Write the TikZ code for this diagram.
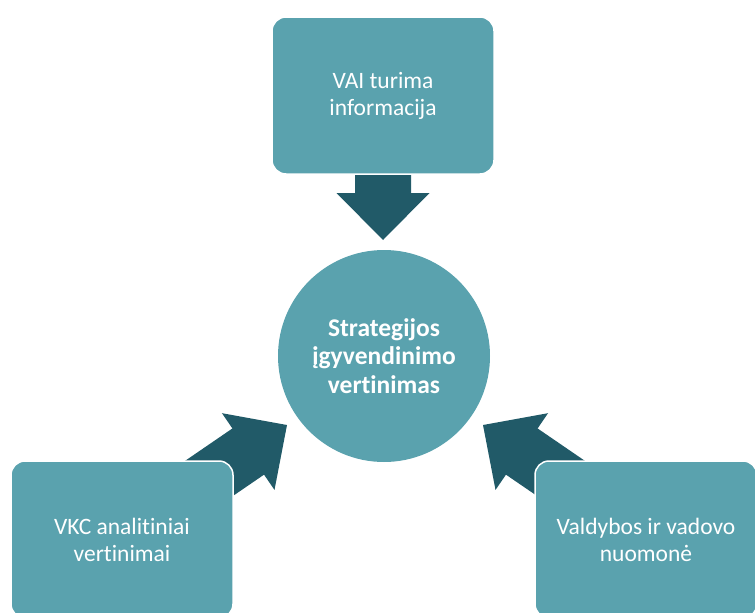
\documentclass[tikz,border=0pt]{standalone}
\usepackage{fontspec}
\setmainfont[Ligatures=NoCommon]{Carlito}
\definecolor{boxteal}{HTML}{5AA2AE}
\definecolor{arrowteal}{HTML}{215A68}
\tikzset{
  boxstyle/.style={rectangle, rounded corners=14pt, fill=boxteal, draw=white, line width=1.5pt,
    minimum width=222pt, minimum height=157pt, text=white, align=center,
    font=\fontsize{23.5}{27}\selectfont, inner sep=0pt},
  hubstyle/.style={circle, fill=boxteal, minimum size=212pt, text=white, align=center,
    font=\bfseries\fontsize{25.5}{28.5}\selectfont, inner sep=0pt},
  blockarrow/.style={fill=arrowteal}
}
\begin{document}
\begin{tikzpicture}[x=1pt,y=1pt]
\useasboundingbox (0,0) rectangle (755,-613);
\clip (0,0) rectangle (755,-613);
% arrows (drawn first, partly hidden by boxes)
\path[blockarrow, shift={(383,-240)}, rotate=-90]
  (0,0) -- (-47,46.5) -- (-47,28) -- (-110,28) -- (-110,-28) -- (-47,-28) -- (-47,-46.5) -- cycle;
\path[blockarrow, shift={(287,-425)}, rotate=34.4]
  (0,0) -- (-47,46.5) -- (-47,28) -- (-130,28) -- (-130,-28) -- (-47,-28) -- (-47,-46.5) -- cycle;
\path[blockarrow, shift={(483,-425)}, rotate=145.6]
  (0,0) -- (-47,46.5) -- (-47,28) -- (-130,28) -- (-130,-28) -- (-47,-28) -- (-47,-46.5) -- cycle;
% nodes
\node[hubstyle] (hub) at (384,-356) {Strategijos\\įgyvendinimo\\vertinimas};
\node[boxstyle] (top) at (383,-95.5) {VAI turima\\informacija};
\node[boxstyle] (left) at (122,-539.5) {VKC analitiniai\\vertinimai};
\node[boxstyle] (right) at (646,-539.5) {Valdybos ir vadovo\\nuomonė};
\end{tikzpicture}
\end{document}
